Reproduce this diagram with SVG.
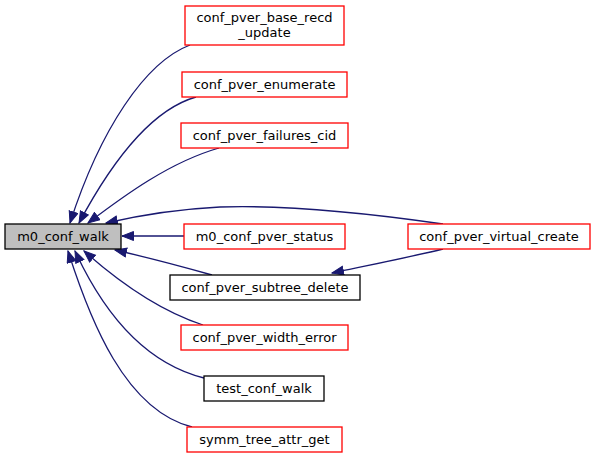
<svg xmlns="http://www.w3.org/2000/svg" width="596" height="458" viewBox="0 0 596 458">
<style>
text{font-family:"DejaVu Sans",sans-serif;font-size:13px;text-anchor:middle;fill:#000}
.n rect{fill:#fff;stroke-width:1.3}
.red rect{stroke:#ff0000}
.blk rect{stroke:#000}
.e path{fill:none;stroke:#191970;stroke-width:1.3}
</style>
<defs>
<marker id="a" markerWidth="14" markerHeight="12" refX="12" refY="5" orient="auto" markerUnits="userSpaceOnUse">
<path d="M0.5,0.5 L12,5 L0.5,9.5 Z" fill="#191970" stroke="#191970"/>
</marker>
</defs>
<rect width="596" height="458" fill="#fff"/>
<g class="e">
<path d="M190,45 C145,62 100,130 70,223" marker-end="url(#a)"/>
<path d="M196,97 C150,110 110,165 79,223" marker-end="url(#a)"/>
<path d="M219,148 C170,162 125,195 88,223" marker-end="url(#a)"/>
<path d="M443,224 C360,212 280,205 220,207 C180,209 145,214 106,223" marker-end="url(#a)"/>
<path d="M184,236 L122,236" marker-end="url(#a)"/>
<path d="M212,275 C180,266 150,258 115,250" marker-end="url(#a)"/>
<path d="M443,249 C410,257 370,265 332,273" marker-end="url(#a)"/>
<path d="M203,325 C160,311 120,283 84,251" marker-end="url(#a)"/>
<path d="M204,378 C140,362 100,305 75,251" marker-end="url(#a)"/>
<path d="M192,427 C125,410 90,320 68,251" marker-end="url(#a)"/>
</g>
<g id="m0_conf_walk" class="n"><rect x="5" y="224" width="116" height="25" style="fill:#bfbfbf;stroke:#000"/><text x="63" y="241">m0_conf_walk</text></g>
<g id="conf_pver_base_recd_update" class="n red"><rect x="185" y="6" width="159" height="39"/><text x="264.5" y="22">conf_pver_base_recd</text><text x="264.5" y="37">_update</text></g>
<g id="conf_pver_enumerate" class="n red"><rect x="182" y="72" width="165" height="25"/><text x="264.5" y="89">conf_pver_enumerate</text></g>
<g id="conf_pver_failures_cid" class="n red"><rect x="181" y="123" width="167" height="25"/><text x="264.5" y="140">conf_pver_failures_cid</text></g>
<g id="m0_conf_pver_status" class="n red"><rect x="184" y="224" width="161" height="25"/><text x="264.5" y="241">m0_conf_pver_status</text></g>
<g id="conf_pver_subtree_delete" class="n blk"><rect x="170" y="275" width="190" height="25"/><text x="265" y="292">conf_pver_subtree_delete</text></g>
<g id="conf_pver_width_error" class="n red"><rect x="181" y="325" width="167" height="25"/><text x="264.5" y="342">conf_pver_width_error</text></g>
<g id="test_conf_walk" class="n blk"><rect x="204" y="376" width="120" height="25"/><text x="264" y="393">test_conf_walk</text></g>
<g id="symm_tree_attr_get" class="n red"><rect x="187" y="427" width="155" height="25"/><text x="264.5" y="444">symm_tree_attr_get</text></g>
<g id="conf_pver_virtual_create" class="n red"><rect x="408" y="224" width="182" height="25"/><text x="499" y="241">conf_pver_virtual_create</text></g>
</svg>
